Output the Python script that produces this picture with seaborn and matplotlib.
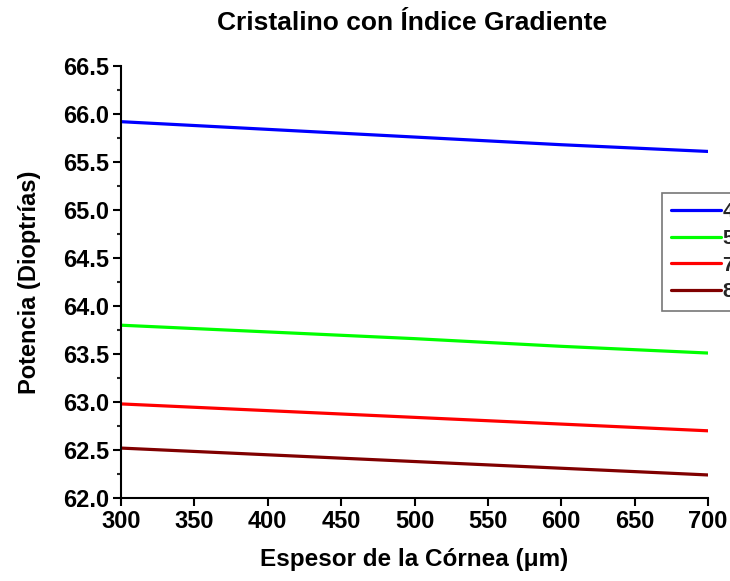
import matplotlib
matplotlib.use("Agg")
import matplotlib.pyplot as plt
import seaborn as sns
import pandas as pd
from matplotlib.ticker import MultipleLocator

sns.set_theme(style="white")
plt.rcParams['font.family'] = ['Liberation Sans', 'DejaVu Sans']
plt.rcParams['font.weight'] = 'bold'

espesor = [300, 400, 500, 600, 700]
series_names = ["40 años", "50 años", "70 años", "80 años"]
p40 = [65.92, 65.84, 65.76, 65.68, 65.61]
p50 = [63.80, 63.73, 63.66, 63.58, 63.51]
p70 = [62.98, 62.91, 62.84, 62.77, 62.70]
p80 = [62.52, 62.45, 62.38, 62.31, 62.24]
colors = ["#0000ff", "#00ff00", "#ff0000", "#800000"]

rows = []
for name, vals in zip(series_names, [p40, p50, p70, p80]):
    for x, v in zip(espesor, vals):
        rows.append({"Espesor": x, "Potencia": v, "Serie": name})
df = pd.DataFrame(rows)

fig = plt.figure(figsize=(7.30, 5.81), dpi=100)
ax = fig.add_axes([121/730, 1-498/581, (708-121)/730, (498-66)/581])
sns.lineplot(data=df, x="Espesor", y="Potencia", hue="Serie",
             palette=colors, linewidth=2.3, ax=ax, legend=False)

ax.set_xlim(300, 700)
ax.set_ylim(62.0, 66.5)
ax.xaxis.set_major_locator(MultipleLocator(50))
ax.yaxis.set_minor_locator(MultipleLocator(0.25))
ax.set_yticks([62.0 + 0.5*i for i in range(10)])
ax.set_yticklabels([f"{62.0 + 0.5*i:.1f}" for i in range(10)])

for s in ["top", "right"]:
    ax.spines[s].set_visible(False)
for s in ["left", "bottom"]:
    ax.spines[s].set_color("black")
    ax.spines[s].set_linewidth(1.5)

ax.tick_params(axis="y", which="major", direction="out", length=6, width=1.5,
               left=True, labelsize=17, colors="black", pad=2.5)
ax.tick_params(axis="y", which="minor", direction="out", length=3, width=1.5, left=True)
ax.tick_params(axis="x", which="major", direction="out", length=5.5, width=1.5,
               bottom=True, labelsize=17, colors="black", pad=3)
for lab in ax.get_xticklabels() + ax.get_yticklabels():
    lab.set_fontweight("bold")

ax.set_xlabel("Espesor de la Córnea (μm)", fontsize=17.5, fontweight="bold",
              color="black", labelpad=11)
ax.set_ylabel("Potencia (Dioptrías)", fontsize=17, fontweight="bold",
              color="black", labelpad=16)
fig.text(412/730, 1-23/581, "Cristalino con Índice Gradiente", ha="center",
         va="center", fontsize=19, fontweight="bold", color="black")

handles = ax.get_lines()[:4]
leg = fig.legend(handles, series_names, loc="upper left",
                 bbox_to_anchor=(662/730, 1-193/581), frameon=True,
                 fancybox=False, edgecolor="#555555", handlelength=2.4,
                 borderpad=0.45, labelspacing=0.37, handletextpad=0.1,
                 borderaxespad=0.0,
                 prop={"weight": "bold", "size": 15})
leg.get_frame().set_linewidth(1.2)

fig.savefig("out.png", dpi=100)
